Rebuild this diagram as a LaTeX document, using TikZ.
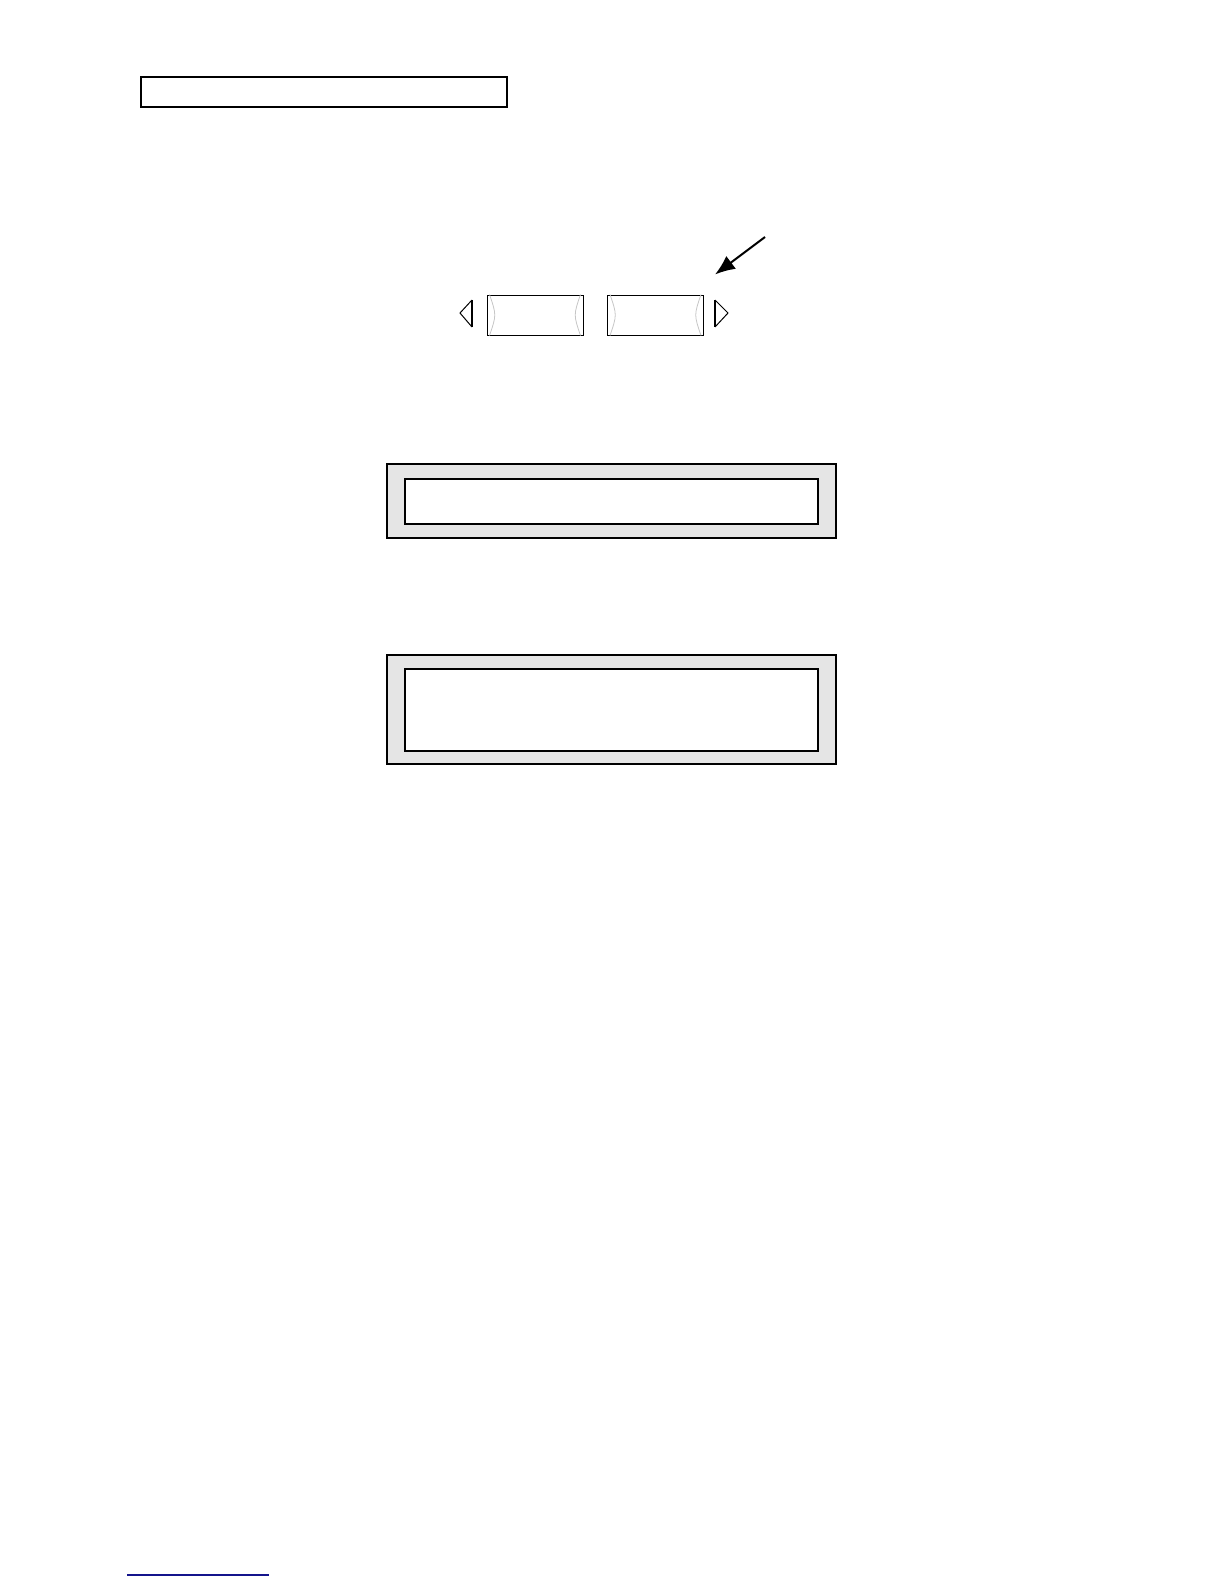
\documentclass[tikz,border=0pt]{standalone}
\usetikzlibrary{arrows.meta}
\definecolor{panelgray}{RGB}{229,229,229}
\definecolor{linkblue}{RGB}{20,20,140}
\tikzset{
  titlebox/.style={rectangle, draw, line width=1pt, inner sep=0pt,
    minimum width=183pt, minimum height=15pt},
  softkey/.style={rectangle, draw, line width=0.5pt, inner sep=0pt,
    minimum width=48pt, minimum height=20pt},
  bevel/.style={draw=gray!45, line width=0.4pt},
  lcdframe/.style={rectangle, draw, line width=1pt, fill=panelgray, inner sep=0pt,
    minimum width=224.5pt},
  lcdscreen/.style={rectangle, draw, line width=1pt, fill=white, inner sep=0pt,
    minimum width=206.5pt}
}

\begin{document}
\begin{tikzpicture}[x=0.5pt, y=-0.5pt]
  \useasboundingbox (0,0) rectangle (1224,1584);
  % heading box:
  \node [titlebox] (title) at (324,92) {};
  % the two soft keys with their bevels:
  \foreach \name/\cx in {btnL/535, btnR/655.5} {
    \node [softkey] (\name) at (\cx,315) {};
    \draw [bevel] ([xshift=1.5pt]\name.north west) .. controls ([xshift=5pt]\name.west)
      .. ([xshift=1.5pt]\name.south west);
    \draw [bevel] ([xshift=-1.5pt]\name.north east) .. controls ([xshift=-5pt]\name.east)
      .. ([xshift=-1.5pt]\name.south east);
  }
  % scroll triangles:
  \draw [line width=0.5pt] (472,300) -- (460,313) -- (472,327);
  \draw [line width=1.2pt] (472,300) -- (472,327);
  \draw [line width=0.5pt] (715,300) -- (728,313) -- (715,327);
  \draw [line width=1.2pt] (715,300) -- (715,327);
  % pointer to the right key:
  \coordinate (tail) at (765,237);
  \draw [line width=1pt, -{Latex[length=10pt,width=8pt]}] (tail) -- ([shift={(5.5pt,10pt)}]btnR.north east);
  % display panels:
  \node [lcdframe, minimum height=37pt] (panelA) at (611.5,501) {};
  \node [lcdscreen, minimum height=22.5pt] (screenA) at (611.5,501.5) {};
  \node [lcdframe, minimum height=54.5pt] (panelB) at (611.5,709.5) {};
  \node [lcdscreen, minimum height=41pt] (screenB) at (611.5,710) {};
  % link underline:
  \draw [linkblue, line width=0.7pt] (127,1575) -- (269,1575);
\end{tikzpicture}
\end{document}
